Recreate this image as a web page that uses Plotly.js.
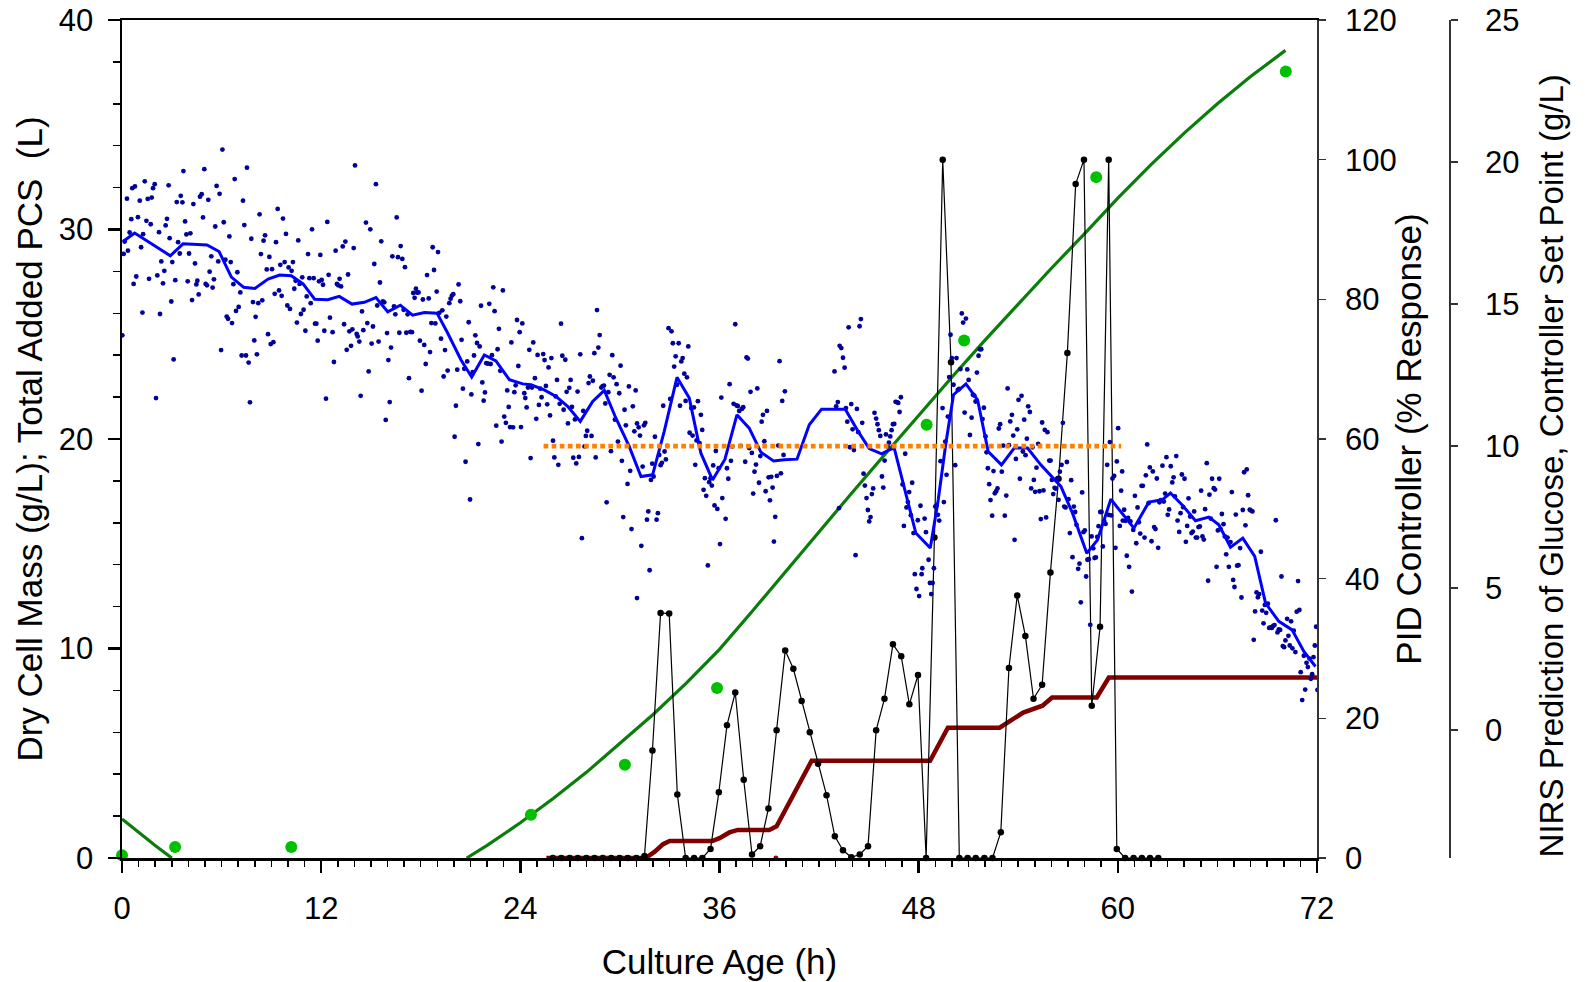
<!DOCTYPE html>
<html><head><meta charset="utf-8">
<script src="https://cdn.plot.ly/plotly-3.0.1.min.js"></script>
<style>html,body{margin:0;padding:0;background:#fff}#chart{width:1585px;height:982px}</style>
</head><body><div id="chart"></div>
<script>
// ---- Data ----
// Dry cell mass measurements (g/L), left axis
const dcmT = [0.0, 3.2, 10.2, 24.64, 30.3, 35.85, 48.48, 50.74, 58.7, 70.12];
const dcmV = [0.13, 0.52, 0.52, 2.06, 4.45, 8.11, 20.68, 24.70, 32.5, 37.54];
// Dry cell mass fitted curve (g/L), left axis (part below 0 not shown)
const dcmFitT = [0, 1, 2, 3.0, null, 20.77, 22, 24, 26, 28, 30, 32, 34, 36, 38, 40, 42, 44, 46, 48, 50, 52, 54, 56, 58, 60, 62, 64, 66, 68, 70.1];
const dcmFitV = [1.86, 1.22, 0.6, 0, null, 0, 0.6, 1.68, 2.85, 4.1, 5.45, 6.85, 8.35, 9.96, 11.8, 13.7, 15.6, 17.45, 19.3, 21.15, 22.95, 24.72, 26.45, 28.15, 29.8, 31.5, 33.1, 34.6, 36.0, 37.3, 38.55];
// Total added PCS (L), left axis
const pcsT = [25.57, 31.55, 32.1, 32.6, 33.0, 35.57, 36.0, 36.6, 37.1, 39.0, 39.44, 41.55, 48.69, 49.76, 52.88, 53.5, 54.3, 55.46, 56.04, 58.73, 59.46, 72];
const pcsV = [0, 0, 0.3, 0.66, 0.81, 0.81, 0.95, 1.22, 1.34, 1.34, 1.51, 4.64, 4.64, 6.22, 6.22, 6.55, 6.94, 7.27, 7.66, 7.66, 8.61, 8.61];
const pcsMarkT = [39.4];
const pcsMarkV = [0];
// PID controller (% response), right axis 1
const pidT = [25.96,26.47,26.97,27.46,27.98,28.47,28.97,29.48,29.98,30.47,30.99,31.48,31.96,32.45,32.97,33.46,33.96,34.47,34.97,35.46,35.96,36.45,36.95,37.46,37.96,38.45,38.95,39.44,39.96,40.45,40.95,41.44,41.94,42.45,42.95,43.44,43.94,44.45,44.95,45.44,45.94,46.45,46.95,47.44,47.96,48.45,48.95,49.45,49.95,50.45,50.95,51.44,51.96,52.45,52.95,53.44,53.94,54.43,54.92,55.44,55.94,56.43,56.96,57.46,57.96,58.43,58.93,59.45,59.94,60.44,60.95,61.45,61.94,62.44];
const pidV = [0,0,0,0,0,0,0,0,0,0,0,0.3,15.4,35.1,35.0,9.1,0,0,0,1.3,9.4,19.0,23.7,11.2,0.5,1.7,7.1,18.3,29.7,27.1,22.5,18.0,13.5,9.0,3.1,1.1,0.1,0.5,1.7,18.3,22.8,30.6,28.9,22.0,26.2,0,45.9,100,71.0,0,0,0,0,0,3.7,27.2,37.6,31.8,22.8,24.8,40.9,54.3,72.3,96.5,100,21.8,33.1,100,1.3,0,0,0,0,0];
// Controller set point (g/L), right axis 2
const setT = [25.4, 60.2];
const setV = [10, 10];
// NIRS glucose prediction, smoothed (g/L), right axis 2
const nirsSmooth = [[0.06,17.20],[0.76,17.50],[1.87,17.09],[2.91,16.70],[3.68,17.12],[5.12,17.08],[5.85,16.85],[6.59,15.95],[7.33,15.59],[8.00,15.55],[8.80,15.88],[9.50,16.02],[10.20,16.00],[10.91,15.71],[11.61,15.17],[12.40,15.15],[13.09,15.27],[13.86,15.00],[14.60,15.06],[15.30,15.23],[16.01,14.73],[16.77,14.96],[17.51,14.61],[18.22,14.70],[18.98,14.68],[19.62,13.98],[20.42,13.04],[21.07,12.43],[21.83,13.21],[22.53,13.00],[23.34,12.34],[24.14,12.19],[24.64,12.16],[25.44,11.98],[26.15,11.75],[26.85,11.40],[27.61,10.87],[28.36,11.57],[29.06,11.96],[29.76,10.98],[30.56,9.99],[31.27,8.93],[31.97,8.99],[32.67,10.52],[33.44,12.42],[34.18,11.69],[34.88,9.75],[35.58,8.81],[36.33,9.54],[37.05,11.10],[37.79,10.63],[38.50,9.78],[39.26,9.48],[39.90,9.52],[40.67,9.54],[41.41,10.75],[42.15,11.30],[43.58,11.30],[44.32,10.55],[45.02,9.91],[45.77,9.73],[46.23,9.87],[46.53,9.93],[46.83,9.22],[47.23,8.34],[47.83,6.94],[48.70,6.41],[49.18,8.11],[49.64,10.10],[50.10,11.81],[50.85,12.19],[51.55,11.63],[52.19,9.81],[52.99,9.34],[53.76,9.93],[54.56,9.93],[55.36,9.34],[56.57,8.58],[57.27,7.64],[58.13,6.23],[58.78,6.70],[59.58,8.13],[60.97,7.11],[61.87,8.03],[62.67,8.11],[63.17,8.35],[63.88,7.93],[64.68,7.37],[65.48,7.50],[66.09,7.23],[66.79,6.44],[67.53,6.76],[68.25,6.12],[68.90,4.47],[69.70,3.83],[70.50,3.53],[71.21,2.77],[71.91,2.24]];
// NIRS glucose prediction, individual spectra (g/L), right axis 2  [hour, value]
const nirsPoints = [
[0.02,13.90],[0.10,16.77],[0.16,17.20],[0.30,18.71],[0.36,16.88],[0.46,17.52],[0.56,17.99],[0.62,19.08],[0.70,15.71],[0.78,19.14],[0.86,15.97],[0.96,18.06],[1.07,18.64],[1.15,17.00],[1.23,14.70],[1.27,17.46],[1.37,19.32],[1.47,17.93],[1.55,18.70],[1.63,15.89],[1.73,17.81],[1.79,18.75],[1.87,19.08],[1.97,19.22],[2.05,11.69],[2.13,16.01],[2.23,17.53],[2.29,14.65],[2.37,16.50],[2.47,15.73],[2.55,16.17],[2.63,17.77],[2.71,18.00],[2.81,19.18],[2.87,17.32],[2.97,15.09],[3.03,16.48],[3.11,13.05],[3.21,15.84],[3.30,18.59],[3.38,17.18],[3.48,16.78],[3.54,18.81],[3.64,18.58],[3.70,19.68],[3.80,17.91],[3.88,17.45],[3.96,15.80],[4.04,16.78],[4.12,17.49],[4.22,15.14],[4.30,18.52],[4.40,16.43],[4.48,15.69],[4.54,15.82],[4.62,15.34],[4.70,18.78],[4.80,18.87],[4.88,18.05],[4.96,19.75],[5.04,15.71],[5.12,15.66],[5.20,18.67],[5.28,16.14],[5.38,16.68],[5.46,15.58],[5.54,15.87],[5.62,17.73],[5.70,19.16],[5.80,16.50],[5.88,18.88],[5.97,13.38],[6.05,20.44],[6.13,17.88],[6.23,16.56],[6.31,14.56],[6.39,14.48],[6.47,17.38],[6.55,16.48],[6.63,14.33],[6.71,15.70],[6.79,19.40],[6.87,14.76],[6.95,16.12],[7.03,14.90],[7.13,15.41],[7.21,13.19],[7.29,18.64],[7.37,17.78],[7.47,13.19],[7.53,19.80],[7.63,12.94],[7.71,11.54],[7.79,17.30],[7.89,15.07],[7.97,13.72],[8.05,14.55],[8.13,13.23],[8.21,15.03],[8.29,18.16],[8.37,16.76],[8.45,15.13],[8.53,17.23],[8.62,17.42],[8.72,16.22],[8.80,13.94],[8.88,16.66],[8.96,13.59],[9.04,16.23],[9.12,13.66],[9.20,15.36],[9.28,17.18],[9.38,18.35],[9.46,15.48],[9.54,16.38],[9.62,15.29],[9.70,18.01],[9.80,16.48],[9.88,17.47],[9.96,14.95],[10.04,16.29],[10.12,14.83],[10.22,16.17],[10.30,16.48],[10.38,15.54],[10.46,15.82],[10.54,14.35],[10.62,17.24],[10.70,15.71],[10.78,14.65],[10.86,15.94],[10.94,14.80],[11.05,14.06],[11.13,15.27],[11.21,16.76],[11.29,15.91],[11.37,15.03],[11.45,17.63],[11.55,15.91],[11.63,14.31],[11.71,14.31],[11.79,13.71],[11.87,15.80],[11.95,16.73],[12.03,15.85],[12.11,15.68],[12.19,14.06],
[12.29,11.67],[12.37,17.89],[12.45,16.03],[12.53,14.52],[12.69,14.01],[12.77,12.96],[12.87,16.88],[12.95,15.71],[13.03,15.66],[13.11,15.89],[13.20,15.62],[13.30,17.03],[13.38,14.29],[13.46,17.20],[13.54,13.39],[13.62,16.04],[13.70,14.04],[13.80,13.53],[13.88,14.11],[13.96,16.97],[14.04,19.88],[14.14,13.95],[14.20,13.86],[14.30,13.68],[14.38,11.77],[14.46,14.74],[14.54,14.08],[14.70,17.87],[14.78,14.33],[14.86,12.63],[14.96,17.63],[15.04,13.61],[15.12,14.21],[15.20,16.41],[15.30,19.22],[15.38,14.95],[15.46,13.68],[15.54,15.76],[15.62,17.21],[15.72,15.09],[15.80,15.06],[15.89,10.92],[15.97,13.98],[16.05,13.03],[16.13,11.55],[16.21,13.47],[16.29,16.68],[16.39,14.92],[16.47,14.64],[16.55,18.05],[16.63,16.65],[16.71,13.99],[16.79,17.04],[16.89,16.59],[16.97,14.80],[17.05,16.30],[17.13,13.99],[17.21,14.64],[17.29,12.39],[17.37,14.02],[17.47,14.01],[17.55,15.39],[17.63,15.22],[17.71,15.54],[17.79,15.40],[17.87,15.41],[17.95,13.71],[18.05,11.95],[18.13,15.16],[18.21,13.56],[18.30,12.89],[18.38,16.02],[18.48,15.20],[18.56,13.31],[18.64,14.33],[18.72,17.00],[18.80,16.20],[18.88,14.32],[18.96,15.44],[19.04,16.83],[19.12,14.69],[19.22,13.78],[19.30,14.78],[19.38,12.45],[19.46,13.38],[19.54,14.56],[19.62,12.66],[19.72,15.03],[19.80,15.19],[19.88,15.30],[19.96,15.35],[20.04,10.33],[20.12,11.42],[20.20,12.69],[20.28,15.69],[20.38,15.10],[20.46,13.74],[20.54,12.02],[20.62,12.72],[20.70,9.45],[20.80,12.98],[20.89,14.36],[20.97,8.12],[21.05,11.82],[21.13,12.60],[21.21,13.19],[21.29,13.90],[21.39,13.63],[21.47,10.07],[21.55,13.51],[21.63,14.94],[21.71,12.24],[21.79,11.60],[21.87,11.89],[21.95,12.92],[22.05,12.90],[22.13,15.01],[22.21,12.89],[22.29,13.20],[22.37,15.59],[22.45,14.75],[22.55,10.72],[22.63,13.41],[22.71,14.13],[22.79,12.65],[22.87,10.16],[22.95,15.48],[23.03,11.04],[23.13,10.82],[23.21,11.96],[23.30,11.38],[23.38,10.67],[23.46,13.65],[23.56,10.66],[23.64,11.90],[23.72,12.14],[23.80,14.44],[23.88,12.82],[23.96,14.01],[24.04,10.67],[24.12,14.32],
[24.24,11.86],[24.30,11.69],[24.38,11.36],[24.46,12.06],[24.54,13.39],[24.62,9.58],[24.70,12.06],[24.78,13.65],[24.88,12.39],[24.96,10.96],[25.04,13.21],[25.12,11.45],[25.20,12.02],[25.28,11.72],[25.38,13.24],[25.46,13.03],[25.54,12.12],[25.62,11.47],[25.70,12.77],[25.79,11.08],[25.87,13.10],[25.97,10.19],[26.05,9.60],[26.13,11.75],[26.21,12.33],[26.29,9.34],[26.37,11.49],[26.45,14.31],[26.53,13.18],[26.61,11.28],[26.71,13.04],[26.79,11.91],[26.87,10.80],[26.95,12.05],[27.03,12.33],[27.11,11.38],[27.19,9.59],[27.29,10.94],[27.37,9.39],[27.45,11.92],[27.53,9.62],[27.61,13.23],[27.71,6.76],[27.79,11.24],[27.87,9.99],[27.95,10.36],[28.03,10.54],[28.11,12.22],[28.19,12.45],[28.29,10.36],[28.37,12.30],[28.46,13.27],[28.54,9.60],[28.62,14.79],[28.70,13.47],[28.78,13.91],[28.88,12.06],[28.96,12.11],[29.04,12.13],[29.12,11.50],[29.20,8.02],[29.30,11.90],[29.38,12.51],[29.46,9.82],[29.54,13.20],[29.62,12.42],[29.70,10.93],[29.80,12.18],[29.88,10.16],[29.96,11.86],[30.04,12.83],[30.12,9.48],[30.20,7.50],[30.28,11.28],[30.36,10.73],[30.46,8.67],[30.54,12.10],[30.62,9.13],[30.70,7.08],[30.78,11.40],[30.87,10.52],[30.95,11.96],[31.03,10.80],[31.03,4.65],[31.13,10.66],[31.21,10.37],[31.29,6.49],[31.37,9.28],[31.45,10.73],[31.53,10.82],[31.63,7.41],[31.71,7.70],[31.79,5.63],[31.87,8.81],[31.95,9.38],[32.03,8.93],[32.11,10.33],[32.21,7.41],[32.29,7.64],[32.37,9.69],[32.45,9.33],[32.53,9.41],[32.61,11.42],[32.69,9.81],[32.77,9.53],[32.85,10.01],[32.93,14.15],[33.03,11.66],[33.11,14.04],[33.19,13.62],[33.27,12.80],[33.36,13.16],[33.44,12.16],[33.54,13.62],[33.62,11.42],[33.70,12.98],[33.78,13.10],[33.88,12.55],[33.96,11.59],[34.04,12.42],[34.12,13.51],[34.20,10.47],[34.30,11.34],[34.38,10.37],[34.46,11.36],[34.54,9.34],[34.62,10.20],[34.70,11.58],[34.80,10.10],[34.88,11.10],[34.96,10.57],[35.04,8.46],[35.12,8.87],[35.20,8.25],[35.30,5.80],[35.38,8.73],[35.46,8.87],[35.54,8.61],[35.62,9.32],[35.70,7.91],[35.78,9.83],[35.87,7.79],[35.95,9.22],[36.03,6.55],[36.11,11.71],[36.17,8.17],
[36.37,7.44],[36.45,9.22],[36.53,8.85],[36.61,12.18],[36.69,9.48],[36.77,9.99],[36.85,11.49],[36.95,14.29],[37.03,11.43],[37.11,11.41],[37.19,11.24],[37.27,10.01],[37.35,11.31],[37.43,11.37],[37.55,9.45],[37.63,13.12],[37.71,13.08],[37.79,9.93],[37.87,11.91],[37.95,9.76],[38.03,8.33],[38.11,9.10],[38.20,9.35],[38.28,12.03],[38.38,8.71],[38.46,9.65],[38.54,10.86],[38.62,11.10],[38.70,10.17],[38.78,8.41],[38.86,11.24],[38.96,8.90],[39.04,8.09],[39.12,8.92],[39.20,8.54],[39.28,6.64],[39.36,7.51],[39.46,8.95],[39.54,10.02],[39.62,12.99],[39.70,9.04],[39.78,11.59],[39.86,9.69],[39.94,11.93],[42.93,12.63],[43.03,11.40],[43.13,11.55],[43.20,7.82],[43.24,13.53],[43.34,13.45],[43.44,13.11],[43.54,12.76],[43.62,11.34],[43.70,10.86],[43.78,14.18],[43.86,9.96],[43.94,11.48],[44.02,10.59],[44.10,9.86],[44.20,6.16],[44.28,11.31],[44.36,10.49],[44.44,14.22],[44.52,14.47],[44.60,10.82],[44.68,9.03],[44.76,8.61],[44.86,8.17],[44.94,7.75],[45.02,7.35],[45.10,7.50],[45.18,8.31],[45.26,8.51],[45.34,11.17],[45.44,10.97],[45.52,10.77],[45.60,10.56],[45.69,10.36],[45.79,8.93],[45.87,8.54],[45.95,9.49],[46.03,10.41],[46.13,9.99],[46.21,10.12],[46.29,10.34],[46.37,10.56],[46.45,10.77],[46.53,10.78],[46.61,11.56],[46.69,11.55],[46.77,11.52],[46.85,11.20],[46.93,11.72],[47.03,8.65],[47.11,7.19],[47.19,9.73],[47.27,7.84],[47.35,8.03],[47.43,8.38],[47.53,7.57],[47.61,8.71],[47.69,6.94],[47.77,5.49],[47.87,4.97],[47.95,7.39],[48.03,4.72],[48.11,7.90],[48.18,5.49],[48.22,5.70],
[48.36,7.45],[48.44,6.97],[48.60,6.00],[48.68,5.18],[48.76,4.79],[48.84,5.18],[48.92,5.70],[49.00,7.87],[49.08,7.91],[49.16,7.58],[49.24,7.38],[49.32,9.47],[49.44,11.34],[49.52,8.03],[49.60,10.16],[49.68,8.99],[49.76,11.04],[49.84,12.43],[49.92,13.92],[50.00,13.10],[50.10,12.16],[50.20,9.33],[50.28,13.10],[50.36,11.98],[50.44,12.01],[50.52,12.71],[50.60,14.67],[50.68,14.35],[50.77,11.18],[50.85,14.49],[50.93,12.70],[51.01,12.33],[51.09,10.39],[51.19,11.00],[51.27,11.81],[51.35,11.78],[51.43,11.57],[51.51,12.59],[51.61,13.18],[51.69,13.41],[51.77,13.41],[51.85,10.95],[51.93,11.35],[52.03,10.34],[52.09,9.78],[52.17,9.22],[52.25,8.66],[52.33,8.10],[52.43,7.55],[52.51,9.12],[52.59,8.34],[52.67,8.41],[52.75,8.51],[52.83,10.62],[52.91,10.77],[53.01,9.10],[53.09,10.02],[53.19,7.55],[53.28,8.26],[53.36,12.03],[53.44,10.03],[53.52,10.87],[53.62,11.10],[53.70,10.37],[53.78,6.70],[53.86,9.55],[53.94,10.59],[54.02,11.63],[54.10,8.85],[54.20,11.77],[54.28,9.81],[54.36,10.93],[54.44,9.68],[54.52,10.26],[54.60,11.40],[54.70,11.20],[54.78,8.51],[54.86,9.96],[54.94,8.81],[55.02,8.39],[55.10,9.24],[55.20,10.08],[55.28,8.41],[55.36,7.43],[55.44,10.83],[55.52,8.44],[55.60,10.57],[55.68,7.49],[55.76,10.49],[55.87,9.49],[55.95,9.49],[56.03,8.81],[56.11,8.31],[56.19,8.53],[56.27,8.50],[56.35,8.85],[56.43,8.11],[56.51,9.10],[56.61,9.34],[56.69,10.82],[56.77,7.87],[56.85,7.84],[56.93,9.44],[57.03,8.13],[57.11,6.94],[57.19,8.80],[57.27,6.09],[57.35,7.87],[57.43,7.68],[57.51,7.23],[57.61,5.68],[57.69,5.86],[57.77,4.50],[57.85,8.37],[57.93,6.97],[58.01,7.03],[58.09,5.41],[58.17,6.00],[58.25,6.02],[58.34,3.71],[58.42,6.82],[58.52,6.40],[58.60,6.06],[58.68,6.08],[58.76,6.80],[58.84,7.18],[58.94,7.68],[59.02,7.68],[59.10,6.47],[59.18,7.36],[59.26,7.26],[59.36,9.34],[59.44,7.58],[59.52,10.14],[59.60,7.56],[59.68,8.86],[59.78,8.95],[59.86,6.42],[59.94,9.46],[60.02,10.63],[60.12,7.19],[60.20,8.43],[60.26,9.11],
[60.30,7.38],[60.38,7.76],[60.46,7.37],[60.54,6.14],[60.62,7.47],[60.68,5.75],[60.76,7.35],[60.85,4.88],[60.93,7.05],[61.03,8.25],[61.11,6.58],[61.19,7.84],[61.27,7.32],[61.35,6.92],[61.43,8.60],[61.51,8.60],[61.61,6.78],[61.69,8.97],[61.77,10.06],[61.85,7.99],[61.93,9.25],[62.03,6.65],[62.11,9.11],[62.19,7.15],[62.27,7.08],[62.35,8.86],[62.43,6.42],[62.51,8.02],[62.59,8.10],[62.69,9.31],[62.77,8.05],[62.85,8.33],[62.93,9.61],[63.01,7.58],[63.09,7.77],[63.19,9.29],[63.28,8.72],[63.36,8.90],[63.44,8.23],[63.52,9.65],[63.60,7.38],[63.70,6.98],[63.78,7.64],[63.86,9.00],[63.94,7.85],[64.02,8.85],[64.10,6.63],[64.18,7.19],[64.26,8.16],[64.36,7.52],[64.44,6.94],[64.52,6.99],[64.60,7.70],[64.70,6.78],[64.78,6.78],[64.86,7.15],[64.94,7.17],[65.02,8.43],[65.10,6.82],[65.18,6.71],[65.26,7.78],[65.36,9.40],[65.44,5.26],[65.52,8.29],[65.60,7.45],[65.68,8.85],[65.78,8.52],[65.86,8.47],[65.95,5.75],[66.03,7.03],[66.11,8.85],[66.19,7.08],[66.27,7.61],[66.37,7.25],[66.45,6.82],[66.53,6.19],[66.61,6.78],[66.69,5.75],[66.79,6.62],[66.87,8.38],[66.95,5.29],[67.03,5.04],[67.11,7.59],[67.19,5.79],[67.27,5.81],[67.37,6.41],[67.45,4.67],[67.53,7.75],[67.61,9.08],[67.69,7.21],[67.77,9.18],[67.85,8.27],[67.95,7.76],[68.03,7.73],[68.11,7.70],[68.19,3.18],[68.27,4.18],[68.36,4.85],[68.44,4.68],[68.52,4.79],[68.62,6.28],[68.70,4.21],[68.78,3.76],[68.86,4.41],[68.94,4.13],[69.04,4.45],[69.12,3.60],[69.20,3.62],[69.28,3.60],[69.36,3.67],[69.44,3.70],[69.52,7.39],[69.62,3.44],[69.70,3.55],[69.78,3.53],[69.86,5.41],[69.94,2.96],[70.02,2.92],[70.10,3.16],[70.20,3.92],[70.28,3.32],[70.36,2.98],[70.44,3.83],[70.52,2.88],[70.60,3.50],[70.70,2.75],[70.78,4.17],[70.86,5.25],[70.94,4.23],[71.02,2.04],[71.11,1.06],[71.21,2.62],[71.29,1.43],[71.37,2.37],[71.45,2.22],[71.55,2.52],[71.63,1.81],[71.71,1.97],[71.79,2.57],[71.87,2.98],[71.95,3.64],[72.03,1.42]
];
const xTickStep = 12;
const nirsTitle = 'NIRS Prediction of Glucose, Controller Set Point (g/L)';

// ---- Chart ----
const FONT = 'Arial, "Liberation Sans", "Helvetica", sans-serif';
const TICK = 31;
const col = (arr, i) => arr.map(p => p[i]);

const traces = [
  {name:'Dry cell mass fit', x:dcmFitT, y:dcmFitV, xaxis:'x', yaxis:'y', mode:'lines', line:{color:'#0a7d0a', width:3.2}, connectgaps:false},
  {name:'Total added PCS', x:pcsT, y:pcsV, xaxis:'x', yaxis:'y', mode:'lines', line:{color:'#800000', width:4.5}},
  {name:'PCS mark', x:pcsMarkT, y:pcsMarkV, xaxis:'x', yaxis:'y', mode:'markers', marker:{color:'#a00000', size:5}, cliponaxis:false},
  {name:'Dry cell mass', x:dcmT, y:dcmV, xaxis:'x', yaxis:'y', mode:'markers', marker:{color:'#00c000', size:12}, cliponaxis:false},
  {name:'PID controller', x:pidT, y:pidV, xaxis:'x', yaxis:'y2', mode:'lines+markers', line:{color:'#000', width:1.2}, marker:{color:'#000', size:6.5}, cliponaxis:false},
  {name:'NIRS glucose', x:col(nirsPoints,0), y:col(nirsPoints,1), xaxis:'x', yaxis:'y3', mode:'markers', marker:{color:'#00009a', size:4.8}},
  {name:'NIRS glucose smoothed', x:col(nirsSmooth,0), y:col(nirsSmooth,1), xaxis:'x', yaxis:'y3', mode:'lines', line:{color:'#0000ff', width:3}},
  {name:'Set point', x:setT, y:setV, xaxis:'x', yaxis:'y3', mode:'lines', line:{color:'#ff8000', width:4.8, dash:'4.7px,3.4px'}}
];

const layout = {
  width:1585, height:982,
  margin:{l:122, r:0, t:20, b:124, pad:0},
  paper_bgcolor:'#fff', plot_bgcolor:'rgba(0,0,0,0)',
  showlegend:false,
  font:{family:FONT, color:'#000', size:TICK},
  xaxis:{domain:[0, 0.8168], range:[0,72], tickmode:'linear', tick0:0, dtick:xTickStep,
    ticks:'outside', ticklen:12, tickwidth:2.5, tickcolor:'#000',
    showline:true, linewidth:2.5, linecolor:'#000', mirror:true,
    showgrid:false, zeroline:false, automargin:false,
    minor:{dtick:1, ticks:'outside', ticklen:6, tickwidth:1.5, tickcolor:'#000', showgrid:false},
    tickfont:{size:TICK}, ticklabelstandoff:9,
    title:{text:'Culture Age (h)', font:{size:35}, standoff:25}},
  yaxis:{range:[0,40], tickmode:'linear', tick0:0, dtick:10,
    ticks:'outside', ticklen:12, tickwidth:2.5, tickcolor:'#000',
    showline:true, linewidth:2.5, linecolor:'#000',
    showgrid:false, zeroline:false, automargin:false,
    minor:{dtick:2, ticks:'outside', ticklen:7, tickwidth:1.5, tickcolor:'#000', showgrid:false},
    tickfont:{size:TICK}, ticklabelstandoff:8,
    title:{text:'Dry Cell Mass (g/L); Total Added PCS\u00a0\u00a0(L)', font:{size:35}, standoff:6}},
  yaxis2:{overlaying:'y', side:'right', anchor:'x', range:[0,120], tickmode:'linear', tick0:0, dtick:20,
    ticks:'outside', ticklen:7, tickwidth:1.5, tickcolor:'#333',
    showline:true, linewidth:1.8, linecolor:'#333',
    showgrid:false, zeroline:false, automargin:false,
    tickfont:{size:TICK}, ticklabelstandoff:13,
    title:{text:'PID Controller (% Response)', font:{size:35}, standoff:1}},
  yaxis3:{overlaying:'y', side:'right', anchor:'free', position:0.907, range:[-4.5,25], tickmode:'linear', tick0:0, dtick:5,
    ticks:'outside', ticklen:7, tickwidth:1.5, tickcolor:'#333',
    showline:true, linewidth:1.8, linecolor:'#333',
    showgrid:false, zeroline:false, automargin:false,
    tickfont:{size:TICK}, ticklabelstandoff:21},
  annotations:[
    {text:nirsTitle, xref:'paper', yref:'paper', x:0.9768, y:0.4674, xanchor:'center', yanchor:'middle',
     textangle:-90, showarrow:false, font:{size:33, family:FONT, color:'#000'}}
  ]
};

Plotly.newPlot('chart', traces, layout, {displayModeBar:false, staticPlot:true});
</script></body></html>
